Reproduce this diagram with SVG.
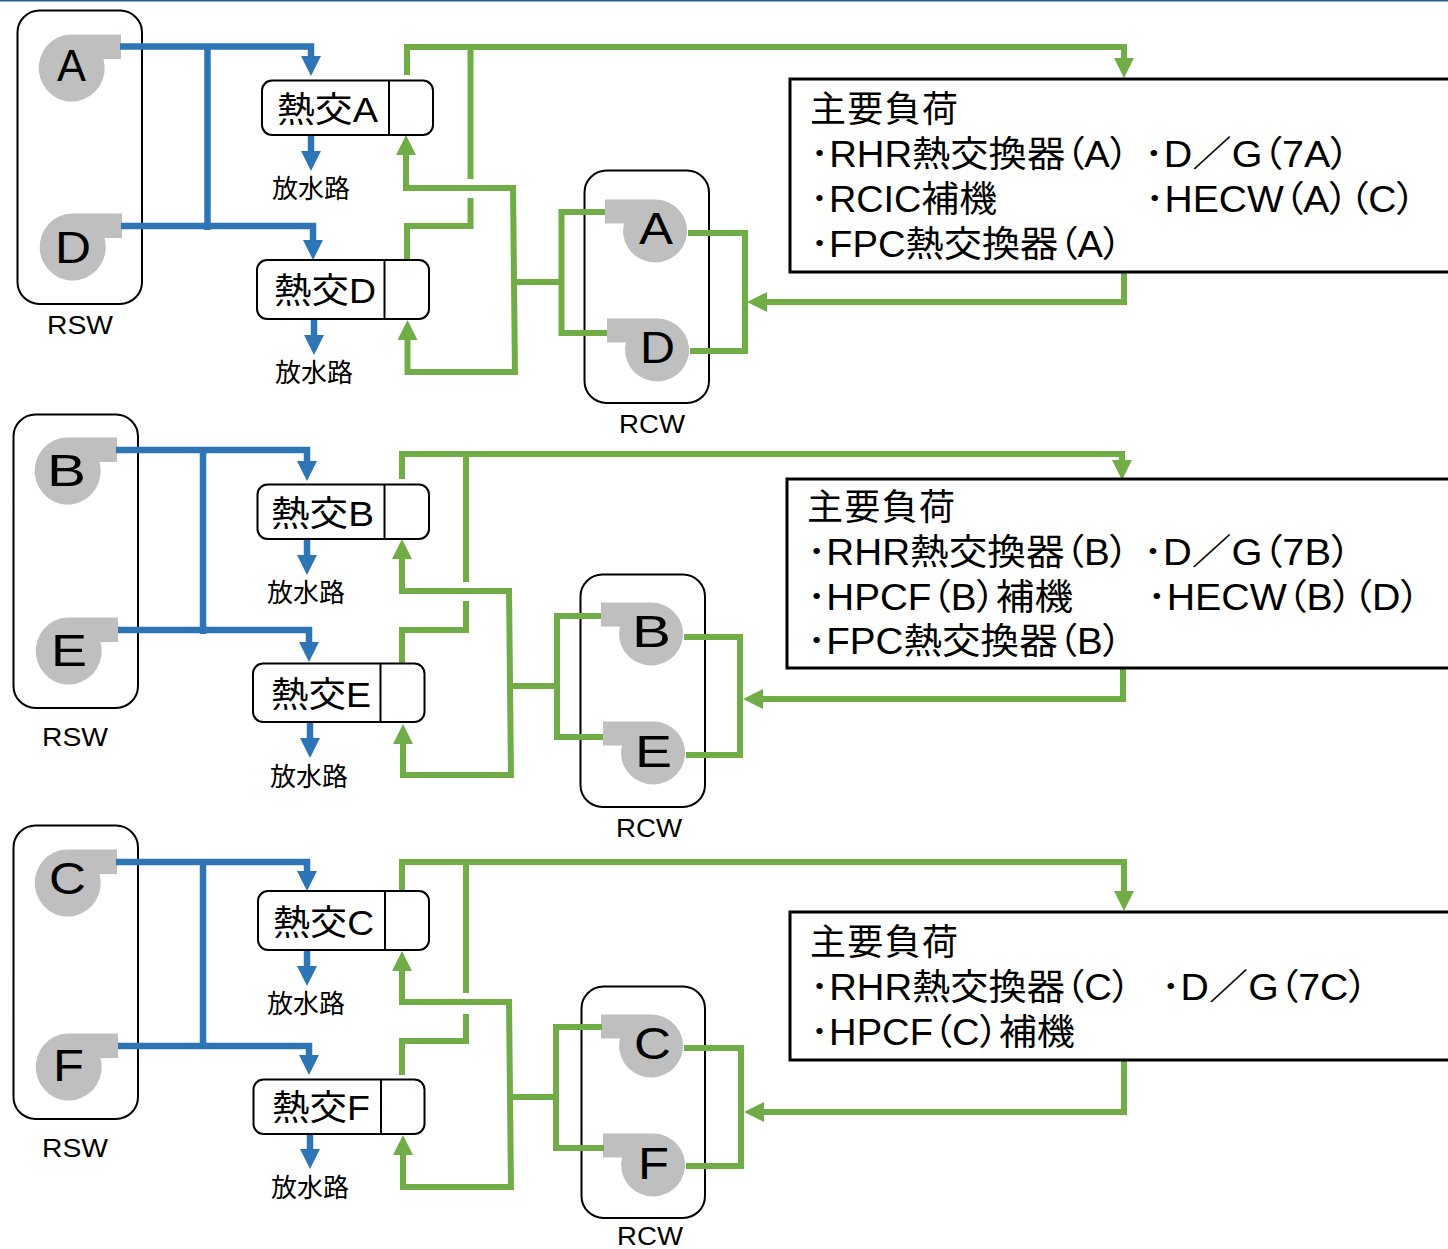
<svg xmlns="http://www.w3.org/2000/svg" width="1448" height="1249" viewBox="0 0 1448 1249">
<style>
text{font-family:"Liberation Sans","Noto Sans CJK JP",sans-serif;fill:#000;font-feature-settings:"palt" 1}
.box{fill:#fff;stroke:#000;stroke-width:2}
.load{fill:#fff;stroke:#000;stroke-width:3}
.pump{fill:#bfbfbf}
.pl{font-size:44px}
.lab{font-size:26px}
.hx{font-size:35px}
.t{font-size:36px}
.drain{font-size:26px;text-anchor:middle}
.bl{fill:none;stroke:#2e75b6;stroke-width:6.5}
.bl.a{marker-end:url(#ab)}
.gr{fill:none;stroke:#70ad47;stroke-width:6}
.gr.a{marker-end:url(#ag)}
</style>
<defs>
<marker id="ab" markerUnits="userSpaceOnUse" markerWidth="20" markerHeight="20" viewBox="0 0 20 20" refX="0" refY="10" orient="auto"><path d="M0,0L20,10L0,20Z" fill="#2e75b6"/></marker>
<marker id="ag" markerUnits="userSpaceOnUse" markerWidth="20" markerHeight="20" viewBox="0 0 20 20" refX="0" refY="10" orient="auto"><path d="M0,0L20,10L0,20Z" fill="#70ad47"/></marker>
<path id="pr" d="M0,-33.5H50V-9H32.500A33,33.500 0 1 1 0,-33.500Z"/>
<path id="pm" d="M0,-31.500H-51V-7.500H-32A32,31.500 0 1 0 0,-31.500Z"/>
</defs>
<rect id="top-edge" x="0" y="0" width="1448" height="1.5" fill="#2f5f8f"/>

<g id="node-rsw-1"><rect class="box" x="17.500" y="10.500" width="124.500" height="293.500" rx="22"/><text class="lab" x="47" y="334" textLength="66" lengthAdjust="spacingAndGlyphs">RSW</text></g>
<g id="node-pump-A1"><use href="#pr" class="pump" x="71" y="68"/><text class="pl" x="57" y="81" textLength="29" lengthAdjust="spacingAndGlyphs">A</text></g>
<g id="node-pump-D1"><use href="#pr" class="pump" x="72" y="247"/><text class="pl" x="55" y="263" textLength="36" lengthAdjust="spacingAndGlyphs">D</text></g>
<g id="node-rsw-2"><rect class="box" x="13.500" y="414.500" width="124.500" height="293.500" rx="22"/><text class="lab" x="42" y="746" textLength="66" lengthAdjust="spacingAndGlyphs">RSW</text></g>
<g id="node-pump-B1"><use href="#pr" class="pump" x="67" y="471"/><text class="pl" x="47" y="486" textLength="39" lengthAdjust="spacingAndGlyphs">B</text></g>
<g id="node-pump-E1"><use href="#pr" class="pump" x="68" y="651"/><text class="pl" x="51" y="666" textLength="36" lengthAdjust="spacingAndGlyphs">E</text></g>
<g id="node-rsw-3"><rect class="box" x="13.500" y="825.500" width="124.500" height="293.500" rx="22"/><text class="lab" x="42" y="1157" textLength="66" lengthAdjust="spacingAndGlyphs">RSW</text></g>
<g id="node-pump-C1"><use href="#pr" class="pump" x="67" y="883"/><text class="pl" x="49" y="894" textLength="37" lengthAdjust="spacingAndGlyphs">C</text></g>
<g id="node-pump-F1"><use href="#pr" class="pump" x="68" y="1067"/><text class="pl" x="53" y="1081" textLength="31" lengthAdjust="spacingAndGlyphs">F</text></g>

<g id="node-rcw-1"><rect class="box" x="584.500" y="170.500" width="124.500" height="232.500" rx="22"/><text class="lab" x="619" y="433" textLength="66" lengthAdjust="spacingAndGlyphs">RCW</text></g>
<g id="node-pump-A2"><use href="#pm" class="pump" x="656" y="231"/><text class="pl" x="639" y="244" textLength="34" lengthAdjust="spacingAndGlyphs">A</text></g>
<g id="node-pump-D2"><use href="#pm" class="pump" x="658" y="350"/><text class="pl" x="640" y="363" textLength="35" lengthAdjust="spacingAndGlyphs">D</text></g>
<g id="node-rcw-2"><rect class="box" x="580.500" y="574.500" width="124.500" height="232.500" rx="22"/><text class="lab" x="616" y="837" textLength="66" lengthAdjust="spacingAndGlyphs">RCW</text></g>
<g id="node-pump-B2"><use href="#pm" class="pump" x="652" y="634"/><text class="pl" x="632" y="647" textLength="39" lengthAdjust="spacingAndGlyphs">B</text></g>
<g id="node-pump-E2"><use href="#pm" class="pump" x="654" y="753"/><text class="pl" x="635" y="767" textLength="37" lengthAdjust="spacingAndGlyphs">E</text></g>
<g id="node-rcw-3"><rect class="box" x="581.500" y="986.500" width="123.500" height="231.500" rx="22"/><text class="lab" x="617" y="1245" textLength="66" lengthAdjust="spacingAndGlyphs">RCW</text></g>
<g id="node-pump-C2"><use href="#pm" class="pump" x="652" y="1046"/><text class="pl" x="634" y="1059" textLength="37" lengthAdjust="spacingAndGlyphs">C</text></g>
<g id="node-pump-F2"><use href="#pm" class="pump" x="654" y="1165"/><text class="pl" x="638" y="1179" textLength="31" lengthAdjust="spacingAndGlyphs">F</text></g>

<g id="connectors">
<path class="bl a" d="M120,46.500H311V56"/><path class="bl" d="M207.500,46V230"/><path class="bl a" d="M121,226H313V240"/>
<path class="bl a" d="M311,135V151"/><path class="bl a" d="M314,319V335"/>
<path class="bl a" d="M116,450H307V461"/><path class="bl" d="M203,450V634"/><path class="bl a" d="M118,630H309V642"/>
<path class="bl a" d="M307,539V555"/><path class="bl a" d="M310,722V738"/>
<path class="bl a" d="M116,862H307V871"/><path class="bl" d="M203,862V1046"/><path class="bl a" d="M118,1046H309V1055"/>
<path class="bl a" d="M307,950V966"/><path class="bl a" d="M310,1134V1149"/>

<path class="gr a" d="M407,75V47H1124V58"/><path class="gr" d="M470.500,47V179"/><path class="gr" d="M470.500,198V226H407V260"/>
<path class="gr a" d="M513,188H406V155"/><path class="gr" d="M513,185L515,375"/><path class="gr a" d="M515,372H407.500V340"/>
<path class="gr" d="M515,282H561.500"/><path class="gr" d="M605,212H561.500V333H607"/>
<path class="gr" d="M688,233H745V351H690"/><path class="gr a" d="M1124,272V302H767"/>

<path class="gr a" d="M402,479V454H1122V460"/><path class="gr" d="M466,454V582"/><path class="gr" d="M466,601V630H402V663"/>
<path class="gr a" d="M509,591H402V559"/><path class="gr" d="M509,588L511,778"/><path class="gr a" d="M511,775H403V744"/>
<path class="gr" d="M511,686H557"/><path class="gr" d="M601,616H557V737H603"/>
<path class="gr" d="M684,637H740V755H686"/><path class="gr a" d="M1123,668V699H763"/>

<path class="gr a" d="M402,891V862H1124V891"/><path class="gr" d="M466,862V993"/><path class="gr" d="M466,1014V1041H402V1075"/>
<path class="gr a" d="M509,1002H402V971"/><path class="gr" d="M509,999L511,1190"/><path class="gr a" d="M511,1187H403V1155"/>
<path class="gr" d="M511,1097H556"/><path class="gr" d="M602,1027H556V1148H604"/>
<path class="gr" d="M684,1048H741V1166H686"/><path class="gr a" d="M1124,1061V1112H764"/>
</g>

<g id="node-hx-A"><rect class="box" x="262" y="80.500" width="171" height="54.500" rx="10"/><path d="M389,80.500V135" stroke="#000" stroke-width="2"/><text class="hx" x="277" y="122" textLength="101" lengthAdjust="spacingAndGlyphs">熱交A</text></g>
<g id="node-hx-D"><rect class="box" x="257" y="260" width="172" height="59" rx="10"/><path d="M384.500,260V319" stroke="#000" stroke-width="2"/><text class="hx" x="274" y="303" textLength="102" lengthAdjust="spacingAndGlyphs">熱交D</text></g>
<g id="node-hx-B"><rect class="box" x="257.500" y="484.500" width="171.500" height="54.500" rx="10"/><path d="M384.500,484.500V539" stroke="#000" stroke-width="2"/><text class="hx" x="271" y="526" textLength="103" lengthAdjust="spacingAndGlyphs">熱交B</text></g>
<g id="node-hx-E"><rect class="box" x="253" y="663.500" width="171.500" height="58.500" rx="10"/><path d="M380.500,663.500V722" stroke="#000" stroke-width="2"/><text class="hx" x="271" y="707" textLength="100" lengthAdjust="spacingAndGlyphs">熱交E</text></g>
<g id="node-hx-C"><rect class="box" x="258" y="891" width="171" height="59" rx="10"/><path d="M385,891V950" stroke="#000" stroke-width="2"/><text class="hx" x="273" y="935" textLength="101" lengthAdjust="spacingAndGlyphs">熱交C</text></g>
<g id="node-hx-F"><rect class="box" x="253.500" y="1079.500" width="171" height="54.500" rx="10"/><path d="M381,1079.500V1134" stroke="#000" stroke-width="2"/><text class="hx" x="272" y="1120" textLength="98" lengthAdjust="spacingAndGlyphs">熱交F</text></g>

<g id="node-drain-A"><text class="drain" x="311" y="198">放水路</text></g>
<g id="node-drain-D"><text class="drain" x="314" y="382">放水路</text></g>
<g id="node-drain-B"><text class="drain" x="306" y="602">放水路</text></g>
<g id="node-drain-E"><text class="drain" x="309" y="786">放水路</text></g>
<g id="node-drain-C"><text class="drain" x="306" y="1013">放水路</text></g>
<g id="node-drain-F"><text class="drain" x="310" y="1197">放水路</text></g>

<g id="node-load-1"><rect class="load" x="790" y="79" width="670" height="193"/>
<text class="t" x="810" y="122" textLength="148">主要負荷</text>
<text class="t" x="810" y="167" textLength="319" lengthAdjust="spacingAndGlyphs">･RHR熱交換器（A）</text>
<text class="t" x="1144" y="167" textLength="206" lengthAdjust="spacingAndGlyphs">･D／G（7A）</text>
<text class="t" x="810" y="212" textLength="187" lengthAdjust="spacingAndGlyphs">･RCIC補機</text>
<text class="t" x="1145" y="212" textLength="271" lengthAdjust="spacingAndGlyphs">･HECW（A）（C）</text>
<text class="t" x="810" y="257" textLength="312" lengthAdjust="spacingAndGlyphs">･FPC熱交換器（A）</text></g>
<g id="node-load-2"><rect class="load" x="787" y="479" width="670" height="189"/>
<text class="t" x="807" y="520" textLength="148">主要負荷</text>
<text class="t" x="807" y="565" textLength="322" lengthAdjust="spacingAndGlyphs">･RHR熱交換器（B）</text>
<text class="t" x="1143" y="565" textLength="208" lengthAdjust="spacingAndGlyphs">･D／G（7B）</text>
<text class="t" x="807" y="610" textLength="266" lengthAdjust="spacingAndGlyphs">･HPCF（B）補機</text>
<text class="t" x="1147" y="610" textLength="273" lengthAdjust="spacingAndGlyphs">･HECW（B）（D）</text>
<text class="t" x="807" y="654" textLength="315" lengthAdjust="spacingAndGlyphs">･FPC熱交換器（B）</text></g>
<g id="node-load-3"><rect class="load" x="790" y="912" width="670" height="148"/>
<text class="t" x="810" y="955" textLength="148">主要負荷</text>
<text class="t" x="810" y="1000" textLength="321" lengthAdjust="spacingAndGlyphs">･RHR熱交換器（C）</text>
<text class="t" x="1161" y="1000" textLength="207" lengthAdjust="spacingAndGlyphs">･D／G（7C）</text>
<text class="t" x="810" y="1045" textLength="265" lengthAdjust="spacingAndGlyphs">･HPCF（C）補機</text></g>
</svg>
